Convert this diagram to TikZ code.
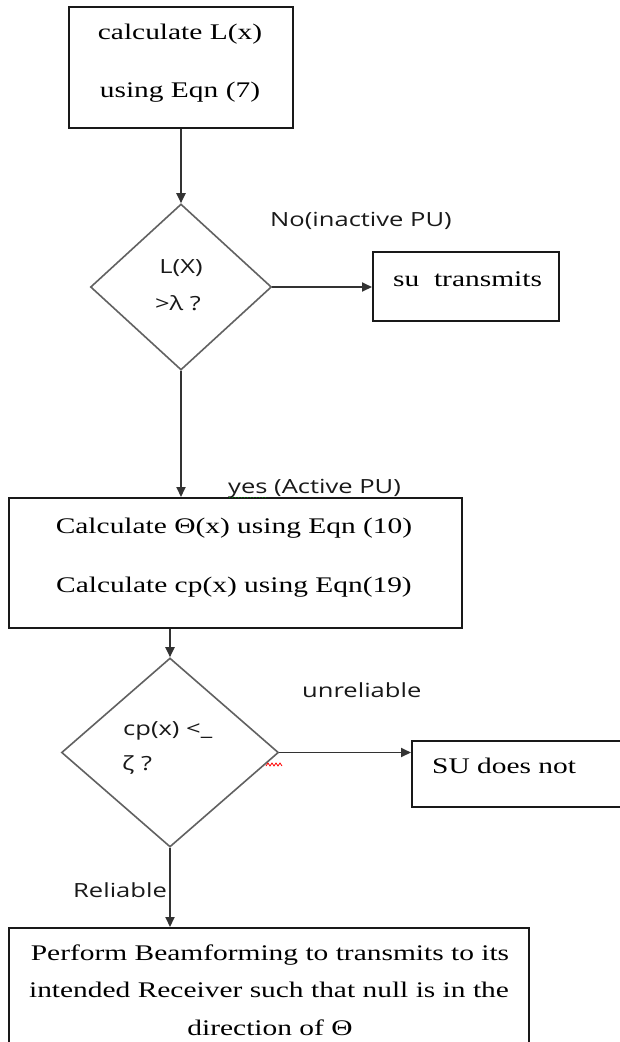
\documentclass[tikz,border=0pt]{standalone}
\usepackage{fontspec}
\setmainfont{Liberation Serif}[FakeStretch=1.32]
\newfontfamily\labelfont{Open Sans}[FakeStretch=1.31]
\usetikzlibrary{shapes.geometric,arrows.meta}
\tikzset{
  boxnode/.style={draw=black!90, line width=2pt, inner sep=0pt, rectangle},
  decnode/.style={draw=black!62, line width=1.6pt, diamond, inner sep=0pt},
  serif/.style={font=\fontsize{22.3}{26}\selectfont, inner sep=0pt, text=black},
  sans/.style={font=\labelfont\fontsize{19.5}{23}\selectfont, inner sep=0pt, text=black!90},
  arr/.style={draw=black!80, line width=1.9pt, -{Triangle[length=10pt,width=9pt]}},
}
\begin{document}
\begin{tikzpicture}[x=1pt,y=-1pt]
\useasboundingbox (0,0) rectangle (620,1042);
\clip (0,0) rectangle (620,1042);
\fill[white] (0,0) rectangle (620,1042);

% boxes and decisions
\node[boxnode, minimum width=224pt, minimum height=121pt] (b1) at (181,67.5) {};
\node[decnode, minimum width=181pt, minimum height=166pt] (d1) at (181,287) {};
\node[boxnode, minimum width=186pt, minimum height=69pt] (su) at (466,286.5) {};
\node[boxnode, minimum width=453pt, minimum height=130pt] (b3) at (235.5,563) {};
\node[decnode, minimum width=217pt, minimum height=189pt] (d2) at (170,752.5) {};
\node[boxnode, minimum width=228pt, minimum height=66pt] (s2) at (526,774) {};
\node[boxnode, minimum width=520pt, minimum height=132pt] (b5) at (269,994) {};

% texts
\node[serif, anchor=base] (t1a) at (180,39) {calculate L(x)};
\node[serif, anchor=base] (t1b) at (180,97) {using Eqn (7)};
\node[sans, anchor=base] (t2a) at (181,273) {L(X)};
\node[sans, anchor=base] (t2b) at (178,310) {>λ ?};
\node[sans, anchor=base west] (lno) at (270,226) {No(inactive PU)};
\node[serif, anchor=base west] (t3) at (393,286) {su~~transmits};
\node[sans, anchor=base west] (lyes) at (228,493) {yes (Active PU)};
\node[serif, anchor=base] (t4a) at (234,533) {Calculate Θ(x) using Eqn (10)};
\node[serif, anchor=base] (t4b) at (234,592) {Calculate cp(x) using Eqn(19)};
\node[sans, anchor=base west] (t5a) at (123,735) {cp(x) <\_};
\node[sans, anchor=base west] (t5b) at (122,770) {ζ ?};
\node[sans, anchor=base west] (lun) at (302,697) {unreliable};
\node[serif, anchor=base west] (t6) at (432,773) {SU does not};
\node[sans, anchor=base west] (lrel) at (73,897) {Reliable};
\node[serif, anchor=base] (t7a) at (270,960) {Perform Beamforming to transmits to its};
\node[serif, anchor=base] (t7b) at (269,997) {intended Receiver such that null is in the};
\node[serif, anchor=base] (t7c) at (270,1035) {direction of Θ};

% connectors
\draw[arr] (b1.south) -- (d1.north);
\draw[arr] (d1.east) -- (su.west |- d1.east);
\draw[arr] (d1.south) -- (d1.south |- b3.north);
\draw[arr] (d2.north |- b3.south) -- (d2.north);
\draw[arr] (d2.east) -- (d2.east -| s2.west);
\draw[arr] (d2.south) -- (d2.south |- b5.north);

% proofing marks
\draw[red, line width=0.8pt] (266,766) -- (268,763) -- (270,766) -- (272,763) -- (274,766) -- (276,763) -- (278,766) -- (280,763) -- (282,766);
\draw[green!50!black, line width=1pt, dotted] (229,497) -- (268,497);
\end{tikzpicture}
\end{document}
